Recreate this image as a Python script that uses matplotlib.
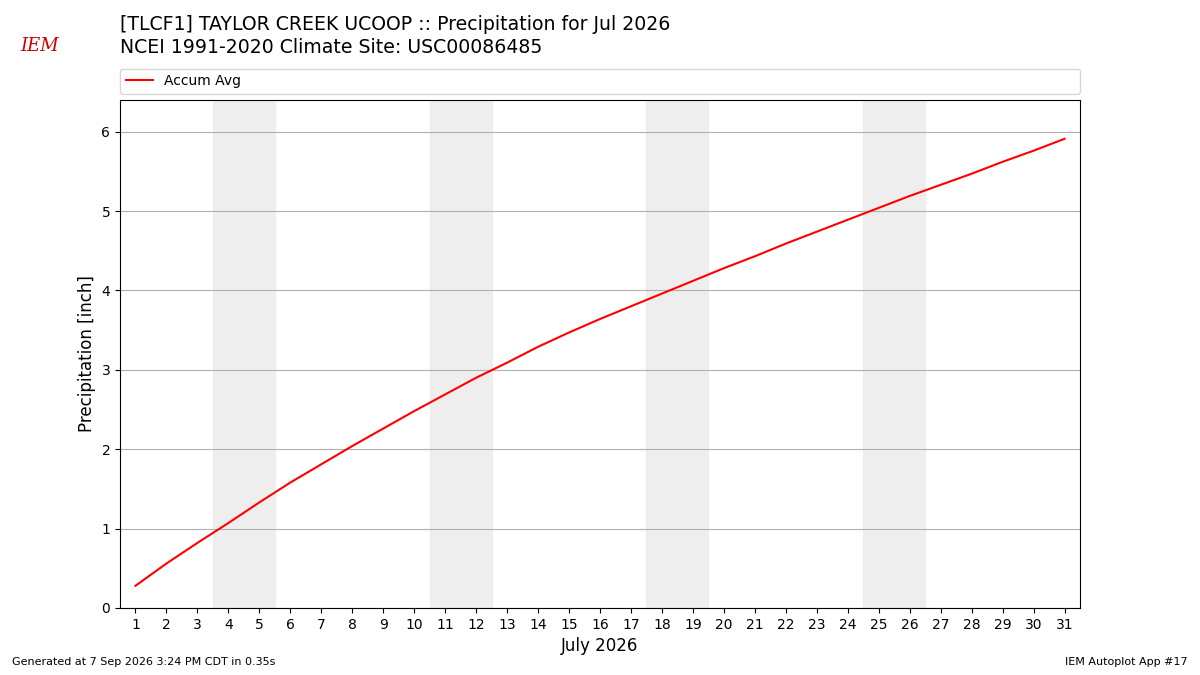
import matplotlib
matplotlib.use("Agg")
import matplotlib.pyplot as plt

days = list(range(1, 32))
accum_avg = [0.28, 0.56, 0.82, 1.07, 1.33, 1.58, 1.81, 2.04, 2.26, 2.48, 2.69, 2.90,
             3.09, 3.29, 3.47, 3.64, 3.80, 3.96, 4.12, 4.28, 4.43, 4.59, 4.74, 4.89,
             5.04, 5.19, 5.33, 5.47, 5.62, 5.76, 5.91]
weekends = [(3.5, 5.5), (10.5, 12.5), (17.5, 19.5), (24.5, 26.5)]

fig = plt.figure(figsize=(12, 6.75), dpi=100)
ax = fig.add_axes([0.1, 0.0993, 0.8, 0.7527])

for lo, hi in weekends:
    ax.axvspan(lo, hi, color="#eeeeee", zorder=0)
line, = ax.plot(days, accum_avg, color="red", lw=1.5, label="Accum Avg")
ax.set_xlim(0.5, 31.5)
ax.set_ylim(0, 6.4)
ax.set_xticks(days)
ax.set_yticks(range(7))
ax.grid(axis="y", color="#b0b0b0")
ax.set_axisbelow(True)
ax.set_xlabel("July 2026", fontsize=12)
ax.set_ylabel("Precipitation [inch]", fontsize=12)

fig.legend(handles=[line], loc="lower left", bbox_to_anchor=(0.1, 0.861, 0.8, 0.035),
           mode="expand", ncol=1, fontsize=10, borderaxespad=0)

fig.text(0.1, 0.963, "[TLCF1] TAYLOR CREEK UCOOP :: Precipitation for Jul 2026",
         fontsize=13.6, va="center")
fig.text(0.1, 0.929, "NCEI 1991-2020 Climate Site: USC00086485", fontsize=13.6, va="center")
fig.text(0.017, 0.932, "IEM", fontsize=13, color="#cc0000", style="italic",
         family="serif", va="center")
fig.text(0.01, 0.015, "Generated at 7 Sep 2026 3:24 PM CDT in 0.35s", fontsize=8)
fig.text(0.99, 0.015, "IEM Autoplot App #17", fontsize=8, ha="right")

fig.savefig("out.png")
